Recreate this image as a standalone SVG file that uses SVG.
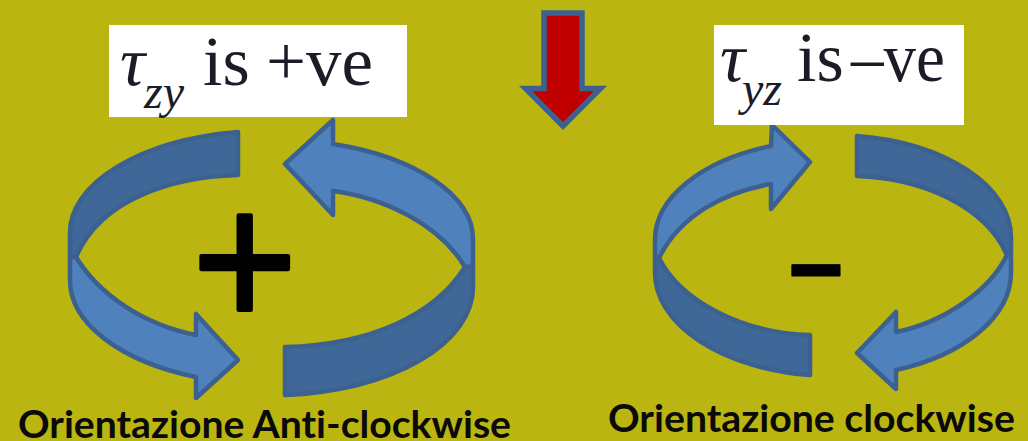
<svg xmlns="http://www.w3.org/2000/svg" width="1028" height="441" viewBox="0 0 1028 441">
  <style>
    .light { fill: #4f81bd; stroke: #3c6190; stroke-width: 4.5; stroke-linejoin: round; }
    .dark { fill: #3f6898; stroke: #3c6190; stroke-width: 4.5; stroke-linejoin: round; }
    .math { font-family: "Liberation Serif", serif; font-size: 70px; fill: #1c1c28; }
    .sub { font-family: "Liberation Serif", serif; font-size: 48px; font-style: italic; fill: #1c1c28; }
    .tau { font-style: italic; }
    .caption { font-family: Lato, "Open Sans", sans-serif; font-weight: 700; font-size: 38px; fill: #0a0a0a; font-variant-ligatures: none; }
    .sign { font-family: "Open Sans", sans-serif; fill: #000; stroke: #000; stroke-linejoin: round; }
  </style>
  <rect width="1028" height="441" fill="#bab510"/>

  <g id="ring-left">
    <path class="dark" d="M238 132 A200 102 0 0 0 70 233 L70 257 L76 257 C100 200 170 177 238 175 Z"/>
    <path class="light" d="M76 257 L70 257 L70 280 A200 104 0 0 0 196 377 L196 398 L238 360 L196 314 L196 335 C145 325 100 296 76 257 Z"/>
    <path class="light" d="M285 164 L333 120 L333 144 A200 100 0 0 1 473 240 L473 267 L465 267 C440 225 385 198 333 191 L333 215 Z"/>
    <path class="dark" d="M285 347 L285 395 A200 108 0 0 0 473 287 L473 267 L465 267 C435 315 370 345 285 347 Z"/>
  </g>

  <g id="ring-right">
    <path class="light" d="M810 162 L772 125 L771 146 A178 100 0 0 0 655 240 L655 258 L659 258 C680 215 725 192 771 184 L771 209 Z"/>
    <path class="dark" d="M659 258 L655 258 L655 273 A178 103 0 0 0 810 375 L810 335 C740 333 680 300 659 258 Z"/>
    <path class="dark" d="M857 136 L857 176 C920 178 985 205 1007 255 L1011 255 L1011 237 A178 102 0 0 0 857 136 Z"/>
    <path class="light" d="M1007 255 L1011 255 L1011 273 A178 104 0 0 1 896 370 L896 389 L857 353 L896 312 L896 332 C945 322 990 290 1007 255 Z"/>
  </g>

  <g id="label-left">
    <rect x="109" y="25" width="298" height="92" fill="#fff"/>
    <text class="math tau" x="120" y="85">τ</text>
    <text class="sub" x="144" y="108">zy</text>
    <text class="math" x="203" y="85">is</text>
    <text class="math" x="266" y="85" textLength="107" lengthAdjust="spacingAndGlyphs">+ve</text>
  </g>

  <g id="label-right">
    <rect x="714" y="25" width="250" height="100" fill="#fff"/>
    <text class="math tau" x="720" y="81">τ</text>
    <text class="sub" x="742" y="105">yz</text>
    <text class="math" x="797" y="81">is</text>
    <text class="math" x="851" y="81" textLength="94" lengthAdjust="spacingAndGlyphs">–ve</text>
  </g>

  <g id="down-arrow">
    <path d="M544 13 H582 V88.5 H600.5 L563 126 L525.5 88.5 H544 Z" fill="#c00000" stroke="#3c6190" stroke-width="5.5"/>
  </g>

  <g id="sign-plus"><text class="sign" transform="translate(245 332) scale(1 1.06)" text-anchor="middle" font-size="185" stroke-width="4">+</text></g>
  <g id="sign-minus"><text class="sign" transform="translate(816 294.5) scale(1.65 0.85)" text-anchor="middle" font-size="110" font-weight="700" stroke-width="1">-</text></g>

  <g id="caption-left"><text class="caption" x="18" y="438" textLength="493" lengthAdjust="spacingAndGlyphs">Orientazione Anti-clockwise</text></g>
  <g id="caption-right"><text class="caption" x="608" y="432" textLength="407" lengthAdjust="spacingAndGlyphs">Orientazione clockwise</text></g>
</svg>
